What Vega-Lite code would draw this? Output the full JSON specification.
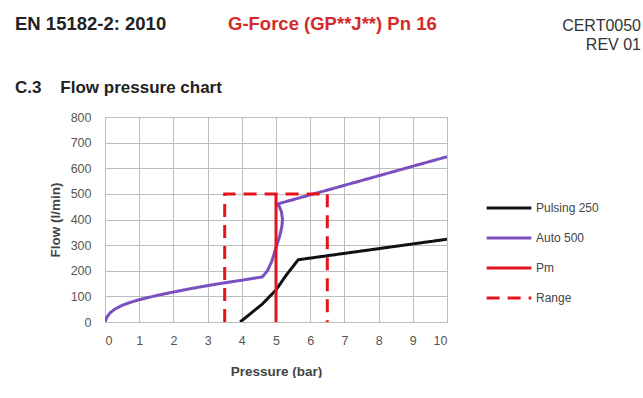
{
  "$schema": "https://vega.github.io/schema/vega-lite/v6.json",
  "background": "white",
  "padding": {"left": 15, "top": 14, "right": 0, "bottom": 0},
  "spacing": 0,
  "config": {
    "font": "Liberation Sans",
    "view": {"stroke": null},
    "concat": {"spacing": 0}
  },
  "vconcat": [
    {
      "bounds": "flush",
      "hconcat": [
        {
          "width": 218, "height": 26,
          "data": {"values": []},
          "mark": {"type": "point", "opacity": 0},
          "encoding": {},
          "title": {"text": "EN 15182-2: 2010", "anchor": "start", "fontSize": 18.5, "fontWeight": "bold", "color": "#222222", "offset": 20, "dx": -90}
        },
        {
          "width": 280, "height": 26,
          "data": {"values": []},
          "mark": {"type": "point", "opacity": 0},
          "encoding": {},
          "title": {"text": "G-Force (GP**J**) Pn 16", "anchor": "start", "fontSize": 18.5, "fontWeight": "bold", "color": "#D42A2A", "offset": 20, "dx": -95}
        },
        {
          "width": 131, "height": 26,
          "data": {"values": []},
          "mark": {"type": "point", "opacity": 0},
          "encoding": {},
          "title": {"text": ["CERT0050", "REV 01"], "anchor": "end", "fontSize": 16, "fontWeight": "normal", "color": "#333333", "offset": 0, "lineHeight": 19, "dx": -93}
        }
      ]
    },
    {
      "width": 342,
      "height": 205,
      "title": {"text": "C.3\u00a0\u00a0\u00a0 Flow pressure chart", "anchor": "start", "frame": "group", "fontSize": 17, "fontWeight": "bold", "color": "#222222", "offset": 14, "dx": -90},
      "data": {
        "values": [
          {"series": "Pulsing 250", "order": 1, "pressure": 3.95, "flow": 0},
          {"series": "Pulsing 250", "order": 2, "pressure": 4.6, "flow": 70},
          {"series": "Pulsing 250", "order": 3, "pressure": 5.0, "flow": 125},
          {"series": "Pulsing 250", "order": 4, "pressure": 5.3, "flow": 183},
          {"series": "Pulsing 250", "order": 5, "pressure": 5.65, "flow": 243},
          {"series": "Pulsing 250", "order": 6, "pressure": 10, "flow": 323},
          {"series": "Auto 500", "order": 1, "pressure": 0, "flow": 0},
          {"series": "Auto 500", "order": 2, "pressure": 0.05, "flow": 18},
          {"series": "Auto 500", "order": 3, "pressure": 0.15, "flow": 36},
          {"series": "Auto 500", "order": 4, "pressure": 0.3, "flow": 51},
          {"series": "Auto 500", "order": 5, "pressure": 0.5, "flow": 65},
          {"series": "Auto 500", "order": 6, "pressure": 0.75, "flow": 77},
          {"series": "Auto 500", "order": 7, "pressure": 1, "flow": 87},
          {"series": "Auto 500", "order": 8, "pressure": 1.5, "flow": 103},
          {"series": "Auto 500", "order": 9, "pressure": 2, "flow": 117},
          {"series": "Auto 500", "order": 10, "pressure": 2.5, "flow": 130},
          {"series": "Auto 500", "order": 11, "pressure": 3, "flow": 142},
          {"series": "Auto 500", "order": 12, "pressure": 3.5, "flow": 153},
          {"series": "Auto 500", "order": 13, "pressure": 4, "flow": 163},
          {"series": "Auto 500", "order": 14, "pressure": 4.6, "flow": 176},
          {"series": "Auto 500", "order": 15, "pressure": 4.75, "flow": 200},
          {"series": "Auto 500", "order": 16, "pressure": 4.88, "flow": 238},
          {"series": "Auto 500", "order": 17, "pressure": 5.0, "flow": 290},
          {"series": "Auto 500", "order": 18, "pressure": 5.1, "flow": 332},
          {"series": "Auto 500", "order": 19, "pressure": 5.17, "flow": 370},
          {"series": "Auto 500", "order": 20, "pressure": 5.19, "flow": 400},
          {"series": "Auto 500", "order": 21, "pressure": 5.16, "flow": 430},
          {"series": "Auto 500", "order": 22, "pressure": 5.1, "flow": 450},
          {"series": "Auto 500", "order": 23, "pressure": 5.03, "flow": 460},
          {"series": "Auto 500", "order": 24, "pressure": 10, "flow": 645},
          {"series": "Pm", "order": 1, "pressure": 5, "flow": 0},
          {"series": "Pm", "order": 2, "pressure": 5, "flow": 500},
          {"series": "Range", "order": 1, "pressure": 3.5, "flow": 0},
          {"series": "Range", "order": 2, "pressure": 3.5, "flow": 500},
          {"series": "Range", "order": 3, "pressure": 6.5, "flow": 500},
          {"series": "Range", "order": 4, "pressure": 6.5, "flow": 0}
        ]
      },
      "mark": {"type": "line", "strokeWidth": 3, "clip": true},
      "encoding": {
        "x": {
          "field": "pressure", "type": "quantitative",
          "scale": {"domain": [0, 10], "nice": false},
          "axis": {
            "title": "Pressure (bar)", "values": [0,1,2,3,4,5,6,7,8,9,10],
            "grid": true, "gridColor": "#BDBDBD", "gridWidth": 1,
            "domainColor": "#BDBDBD", "ticks": false, "labelPadding": 12,
            "labelFontSize": 12.5, "labelColor": "#555555",
            "titleFontSize": 13.5, "titleFontWeight": "bold", "titleColor": "#444444", "titlePadding": 18
          }
        },
        "y": {
          "field": "flow", "type": "quantitative",
          "scale": {"domain": [0, 800], "nice": false},
          "axis": {
            "title": "Flow (l/min)", "values": [0,100,200,300,400,500,600,700,800],
            "grid": true, "gridColor": "#BDBDBD", "gridWidth": 1,
            "domainColor": "#BDBDBD", "ticks": false, "labelPadding": 14,
            "labelFontSize": 12.5, "labelColor": "#555555",
            "titleFontSize": 13.5, "titleFontWeight": "bold", "titleColor": "#444444", "titlePadding": 8
          }
        },
        "order": {"field": "order", "type": "quantitative"},
        "color": {
          "field": "series", "type": "nominal",
          "scale": {"domain": ["Pulsing 250", "Auto 500", "Pm", "Range"], "range": ["#111111", "#7A4FC0", "#E3141C", "#E3141C"]},
          "legend": {
            "title": null, "orient": "none", "legendX": 380, "legendY": 147,
            "symbolType": "stroke", "symbolSize": 2000, "symbolStrokeWidth": 3,
            "labelFontSize": 12, "labelColor": "#444444", "rowPadding": 14, "clipHeight": 16, "labelOffset": 3
          }
        },
        "strokeDash": {
          "field": "series", "type": "nominal",
          "scale": {"domain": ["Pulsing 250", "Auto 500", "Pm", "Range"], "range": [[1, 0], [1, 0], [1, 0], [13, 8]]},
          "legend": {
            "title": null, "orient": "none", "legendX": 380, "legendY": 147,
            "symbolType": "stroke", "symbolSize": 2000, "symbolStrokeWidth": 3,
            "labelFontSize": 12, "labelColor": "#444444", "rowPadding": 14, "clipHeight": 16, "labelOffset": 3
          }
        }
      }
    }
  ]
}
